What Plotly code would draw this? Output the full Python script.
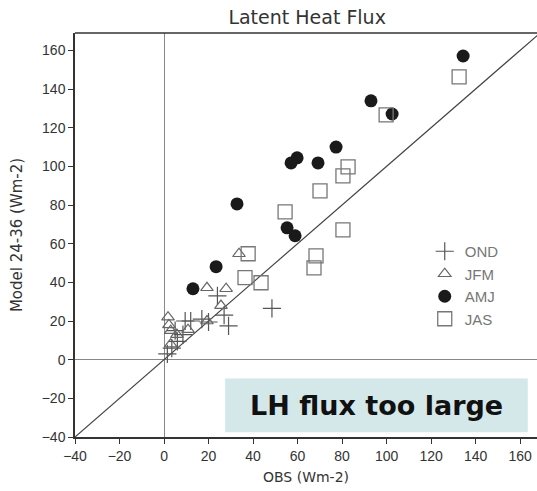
import plotly.graph_objects as go

# ---- data ----
ond_x = [1.5, 3.5, 6.0, 8.5, 5.0, 9.5, 12.0, 17.0, 20.0, 24.0, 27.0, 29.0, 48.5]
ond_y = [3.0, 6.0, 9.5, 13.0, 15.0, 20.0, 20.0, 21.0, 19.5, 33.0, 23.0, 17.5, 26.5]

jfm_x = [1.8, 2.2, 3.0, 5.8, 3.0, 10.8, 19.3, 19.3, 25.6, 27.9, 33.7]
jfm_y = [22.0, 18.0, 15.0, 13.0, 8.0, 15.5, 20.0, 37.2, 28.0, 36.7, 54.8]

amj_x = [134.4, 93.0, 102.5, 77.3, 59.8, 57.1, 69.2, 32.8, 55.3, 58.9, 23.4, 13.0]
amj_y = [157.1, 133.9, 127.1, 110.0, 104.4, 101.8, 101.8, 80.6, 68.2, 64.1, 48.1, 36.7]

jas_x = [132.6, 99.8, 82.7, 80.4, 70.1, 54.4, 80.4, 68.3, 67.4, 37.8, 36.4, 43.6]
jas_y = [146.3, 126.6, 99.7, 95.1, 87.3, 76.5, 67.2, 53.7, 47.5, 54.8, 42.4, 39.8]

tick_vals = [-40, -20, 0, 20, 40, 60, 80, 100, 120, 140, 160]
x_range = [-40, 167.6]
y_range = [-40, 169]

fig = go.Figure()

# 1:1 line
fig.add_trace(go.Scatter(x=[-40, 170], y=[-40, 170], mode="lines",
                         line=dict(color="#444444", width=1.2),
                         showlegend=False, hoverinfo="skip"))

fig.add_trace(go.Scatter(x=ond_x, y=ond_y, mode="markers", name="OND",
                         marker=dict(symbol="cross-thin", size=13,
                                     line=dict(color="#555555", width=1.2))))
fig.add_trace(go.Scatter(x=jfm_x, y=jfm_y, mode="markers", name="JFM",
                         marker=dict(symbol="triangle-up-open", size=11,
                                     color="#666666", line=dict(width=1.2))))
fig.add_trace(go.Scatter(x=amj_x, y=amj_y, mode="markers", name="AMJ",
                         marker=dict(symbol="circle", size=13, color="#1a1a1a",
                                     line=dict(width=0))))
fig.add_trace(go.Scatter(x=jas_x, y=jas_y, mode="markers", name="JAS",
                         marker=dict(symbol="square-open", size=14,
                                     color="#777777", line=dict(width=1.3))))

axis_font = dict(family="Liberation Sans, Arial, sans-serif", size=14, color="#333333")

fig.update_layout(
    width=537, height=491,
    margin=dict(l=75, r=0, t=33, b=54, autoexpand=False),
    paper_bgcolor="white", plot_bgcolor="white",
    title=dict(text="Latent Heat Flux", x=0.572, xanchor="center", y=0.965, yanchor="middle",
               font=dict(family="DejaVu Sans, sans-serif", size=19, color="#333333")),
    xaxis=dict(range=x_range, tickvals=tick_vals, showgrid=False, zeroline=True,
               zerolinecolor="#888888", zerolinewidth=1, automargin=False,
               showline=True, linecolor="#333333", linewidth=1.5, mirror=False,
               ticks="outside", ticklen=5, tickcolor="#333333", tickfont=axis_font,
               title=dict(text="OBS (Wm-2)", standoff=10,
                          font=dict(family="DejaVu Sans, sans-serif", size=14, color="#333333"))),
    yaxis=dict(range=y_range, tickvals=tick_vals, showgrid=False, zeroline=True,
               zerolinecolor="#888888", zerolinewidth=1, automargin=False,
               showline=True, linecolor="#333333", linewidth=1.5, mirror=False,
               ticks="outside", ticklen=5, tickcolor="#333333", tickfont=axis_font,
               title=dict(text="Model 24-36 (Wm-2)", standoff=15,
                          font=dict(family="DejaVu Sans, sans-serif", size=15, color="#333333"))),
    legend=dict(x=0.757, y=0.5, xanchor="left", yanchor="top",
                bgcolor="rgba(0,0,0,0)",
                font=dict(family="Liberation Sans, Arial, sans-serif", size=15, color="#777777")),
    shapes=[
        dict(type="line", xref="paper", yref="paper", x0=0, x1=1, y0=1, y1=1,
             line=dict(color="#333333", width=1.5)),
        dict(type="rect", xref="paper", yref="paper", x0=0.325, x1=0.98, y0=0.012, y1=0.145,
             fillcolor="#d4e8ea", line=dict(width=0), layer="below"),
    ],
    annotations=[
        dict(text="<b>LH flux too large</b>", xref="paper", yref="paper",
             x=0.652, y=0.078, showarrow=False, xanchor="center", yanchor="middle",
             font=dict(family="DejaVu Sans, sans-serif", size=27, color="#111111")),
    ],
)

fig.write_html("out.html", config={"displayModeBar": False},
               post_script="document.body.style.margin='0';document.body.style.padding='0';")
